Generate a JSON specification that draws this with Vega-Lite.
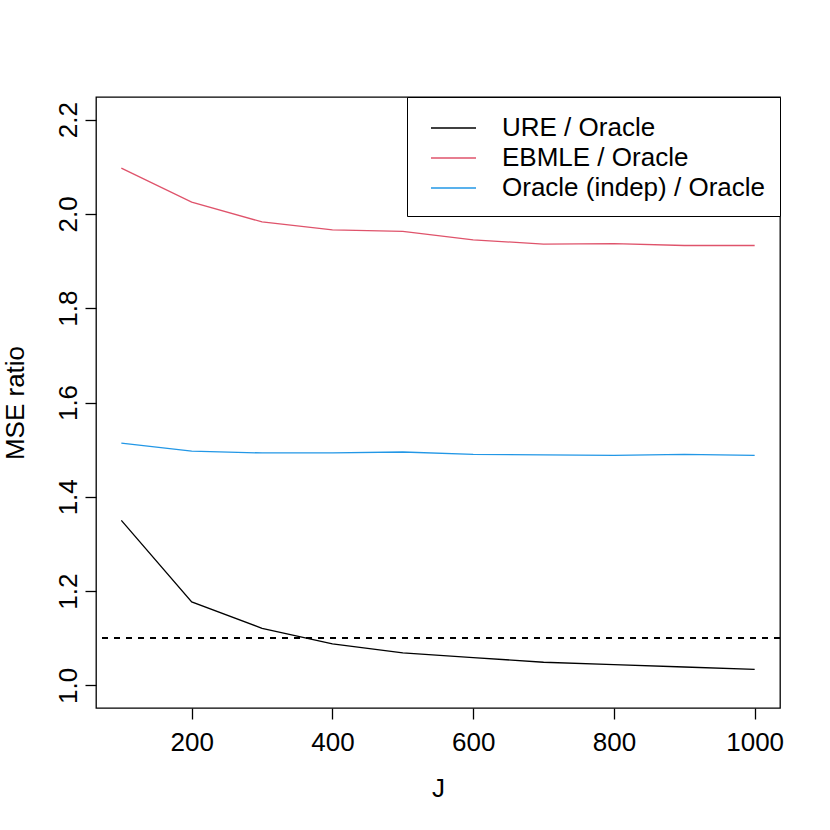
{
  "$schema": "https://vega.github.io/schema/vega-lite/v6.json",
  "width": 684,
  "height": 611,
  "autosize": {"type": "none"},
  "padding": {"left": 96, "top": 97, "right": 50, "bottom": 122},
  "background": "white",
  "config": {
    "font": "Liberation Sans",
    "view": {"stroke": "black", "strokeWidth": 1.3},
    "axis": {
      "grid": false,
      "domain": false,
      "tickColor": "black",
      "tickWidth": 1.3,
      "tickSize": 11,
      "labelFont": "Liberation Sans",
      "labelFontSize": 26,
      "labelColor": "black",
      "titleFont": "Liberation Sans",
      "titleFontSize": 26,
      "titleFontWeight": "normal",
      "titleColor": "black"
    },
    "legend": {
      "orient": "top-right",
      "offset": 0,
      "strokeColor": "black",
      "fillColor": "white",
      "padding": 15,
      "symbolOffset": 15.5,
      "symbolType": "M-1.5,0H1.5",
      "symbolSize": 900,
      "symbolStrokeWidth": 1.3,
      "labelFont": "Liberation Sans",
      "labelFontSize": 26,
      "labelColor": "black",
      "labelOffset": 32.5,
      "labelLimit": 0,
      "rowPadding": 1,
      "cornerRadius": 0
    }
  },
  "data": {
    "values": [
      {"J": 100, "series": "URE / Oracle", "ratio": 1.350},
      {"J": 200, "series": "URE / Oracle", "ratio": 1.177},
      {"J": 300, "series": "URE / Oracle", "ratio": 1.121},
      {"J": 400, "series": "URE / Oracle", "ratio": 1.088},
      {"J": 500, "series": "URE / Oracle", "ratio": 1.069},
      {"J": 600, "series": "URE / Oracle", "ratio": 1.059},
      {"J": 700, "series": "URE / Oracle", "ratio": 1.049},
      {"J": 800, "series": "URE / Oracle", "ratio": 1.044},
      {"J": 900, "series": "URE / Oracle", "ratio": 1.039},
      {"J": 1000, "series": "URE / Oracle", "ratio": 1.034},
      {"J": 100, "series": "EBMLE / Oracle", "ratio": 2.097},
      {"J": 200, "series": "EBMLE / Oracle", "ratio": 2.025},
      {"J": 300, "series": "EBMLE / Oracle", "ratio": 1.983},
      {"J": 400, "series": "EBMLE / Oracle", "ratio": 1.966},
      {"J": 500, "series": "EBMLE / Oracle", "ratio": 1.963},
      {"J": 600, "series": "EBMLE / Oracle", "ratio": 1.945},
      {"J": 700, "series": "EBMLE / Oracle", "ratio": 1.936},
      {"J": 800, "series": "EBMLE / Oracle", "ratio": 1.937},
      {"J": 900, "series": "EBMLE / Oracle", "ratio": 1.933},
      {"J": 1000, "series": "EBMLE / Oracle", "ratio": 1.933},
      {"J": 100, "series": "Oracle (indep) / Oracle", "ratio": 1.514},
      {"J": 200, "series": "Oracle (indep) / Oracle", "ratio": 1.497},
      {"J": 300, "series": "Oracle (indep) / Oracle", "ratio": 1.493},
      {"J": 400, "series": "Oracle (indep) / Oracle", "ratio": 1.493},
      {"J": 500, "series": "Oracle (indep) / Oracle", "ratio": 1.495},
      {"J": 600, "series": "Oracle (indep) / Oracle", "ratio": 1.490},
      {"J": 700, "series": "Oracle (indep) / Oracle", "ratio": 1.489},
      {"J": 800, "series": "Oracle (indep) / Oracle", "ratio": 1.488},
      {"J": 900, "series": "Oracle (indep) / Oracle", "ratio": 1.490},
      {"J": 1000, "series": "Oracle (indep) / Oracle", "ratio": 1.488}
    ]
  },
  "layer": [
    {
      "mark": {"type": "rule", "strokeDash": [6, 6], "strokeWidth": 1.3, "color": "black"},
      "encoding": {"y": {"datum": 1.1, "type": "quantitative"}}
    },
    {
      "mark": {"type": "line", "strokeWidth": 1.3},
      "encoding": {
        "x": {
          "field": "J", "type": "quantitative",
          "scale": {"domain": [64, 1036], "nice": false, "zero": false},
          "axis": {"values": [200, 400, 600, 800, 1000], "format": "d", "title": "J", "labelPadding": 10, "titlePadding": 20, "labelFlush": false}
        },
        "y": {
          "field": "ratio", "type": "quantitative",
          "scale": {"domain": [0.952, 2.248], "nice": false, "zero": false},
          "axis": {"values": [1.0, 1.2, 1.4, 1.6, 1.8, 2.0, 2.2], "format": ".1f", "title": "MSE ratio", "labelAngle": 270, "labelAlign": "center", "labelBaseline": "bottom", "labelPadding": 4, "titlePadding": 27}
        },
        "color": {
          "field": "series", "type": "nominal",
          "scale": {"domain": ["URE / Oracle", "EBMLE / Oracle", "Oracle (indep) / Oracle"], "range": ["black", "#DF536B", "#2297E6"]},
          "legend": {"title": null}
        }
      }
    }
  ]
}
